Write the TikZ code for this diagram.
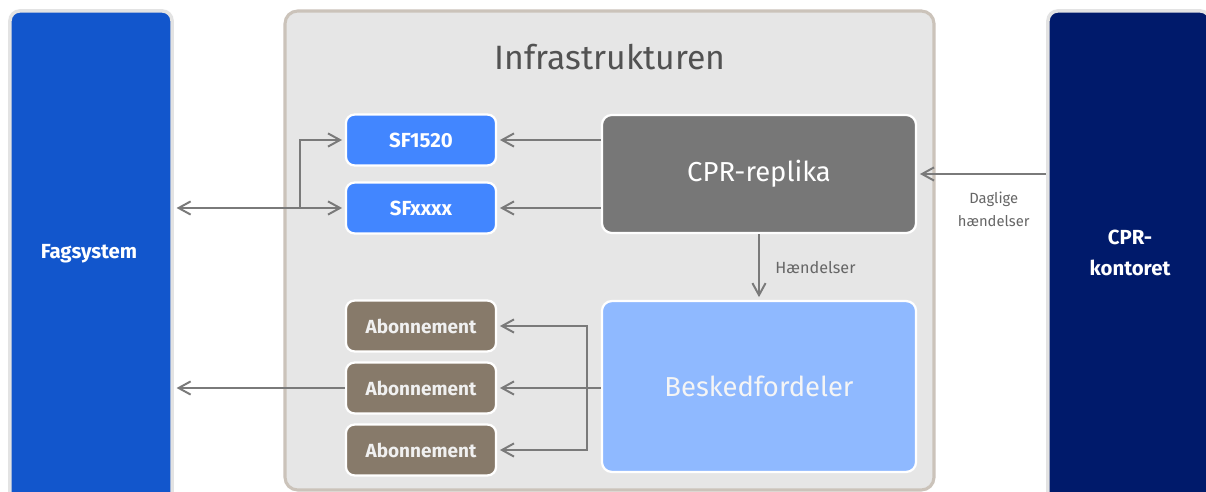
\documentclass[tikz,border=0pt]{standalone}
\usepackage{fontspec}
\setmainfont{Fira Sans}
\usetikzlibrary{arrows.meta,positioning}

\definecolor{fagblue}{HTML}{1256CC}
\definecolor{sfblue}{HTML}{4286FF}
\definecolor{replgray}{HTML}{777777}
\definecolor{beskblue}{HTML}{8FB9FF}
\definecolor{abobrown}{HTML}{877A6A}
\definecolor{cprnavy}{HTML}{001A6B}
\definecolor{infrafill}{HTML}{E6E6E6}
\definecolor{infraedge}{HTML}{CBC3BA}
\definecolor{linegray}{HTML}{7A7A7A}

\tikzset{
    sidebox/.style={draw=black!11, line width=2.5pt, rounded corners=7pt, text=white, minimum width=4.05cm, align=center},
    smallbox/.style={draw=white, line width=1.6pt, rounded corners=6pt, text=white, minimum width=3.75cm, minimum height=1.27cm},
    bigbox/.style={draw=white, line width=1.6pt, rounded corners=7pt, text=white, minimum width=7.85cm, font=\fontsize{19.5}{24}\selectfont},
    conn/.style={draw=linegray, line width=1.4pt, arrows={-Straight Barb[length=3mm,width=3.3mm]}, shorten >=2pt},
    lbl/.style={text=black!60, align=center}
}

\begin{document}
\begin{tikzpicture}[x=0.025cm, y=-0.025cm]
        \clip (0,0) rectangle (1206,492);
        \fill[white] (0,0) rectangle (1206,492);

        % infrastrukturen
        \path[fill=infrafill, draw=infraedge, line width=2.2pt, rounded corners=9pt] (285,11) rectangle (934,490);
        \node[text=black!68, font=\fontsize{24}{28}\selectfont] (infra) at (610,57) {Infrastrukturen};

        % side systems
        \node[sidebox, fill=fagblue, minimum height=13.5cm] (fag) at (91,281) {};
        \node[text=white, font=\bfseries\fontsize{14.5}{17}\selectfont] (fagtxt) at (89,254) {Fagsystem};
        \node[sidebox, fill=cprnavy, minimum height=13.5cm] (kontor) at (1129,281) {};
        \node[text=white, font=\bfseries\fontsize{14.5}{22.5}\selectfont, align=center] (kontortxt) at (1130,253) {CPR-\\kontoret};

        % services
        \node[smallbox, fill=sfblue, font=\bfseries\fontsize{14.5}{17}\selectfont] (sf1520) at (421,140) {SF1520};
        \node[smallbox, fill=sfblue, font=\bfseries\fontsize{14.5}{17}\selectfont] (sfxxxx) at (421,208) {SFxxxx};

        \node[bigbox, fill=replgray, minimum height=2.95cm] (repl) at (759,174) {CPR-replika};
        \node[bigbox, fill=beskblue, minimum height=4.27cm, text=white!96!black] (besk) at (759,386.5) {Beskedfordeler};

        \node[smallbox, fill=abobrown, font=\bfseries\fontsize{13.5}{16}\selectfont, text=white!94!black] (abo1) at (421,326) {Abonnement};
        \node[smallbox, fill=abobrown, font=\bfseries\fontsize{13.5}{16}\selectfont, text=white!94!black] (abo2) at (421,388) {Abonnement};
        \node[smallbox, fill=abobrown, font=\bfseries\fontsize{13.5}{16}\selectfont, text=white!94!black] (abo3) at (421,450) {Abonnement};

        \coordinate (split) at (300,208);
        \coordinate (fork) at (587,388);

        % connectors
        \path[conn, arrows={Straight Barb[length=3mm,width=3.3mm]-Straight Barb[length=3mm,width=3.3mm]}, shorten <=2pt] (sfxxxx.west -| fag.east) -- (sfxxxx.west);
        \path[conn] (split) |- (sf1520.west);
        \path[conn] (repl.west |- sf1520.east) -- (sf1520.east);
        \path[conn] (repl.west |- sfxxxx.east) -- (sfxxxx.east);
        \path[conn] (kontor.west |- repl.east) -- node[lbl, font=\fontsize{10.5}{16.5}\selectfont, below=3mm, xshift=3mm] {Daglige\\hændelser} (repl.east);
        \path[conn] (repl.south) -- node[lbl, font=\fontsize{11.5}{14}\selectfont, right=2.7mm] {Hændelser} (besk.north);
        \path[conn] (besk.west |- abo2.east) -- (abo2.east);
        \path[conn] (fork) |- (abo1.east);
        \path[conn] (fork) |- (abo3.east);
        \path[conn] (abo2.west) -- (abo2.west -| fag.east);
    \end{tikzpicture}
\end{document}
